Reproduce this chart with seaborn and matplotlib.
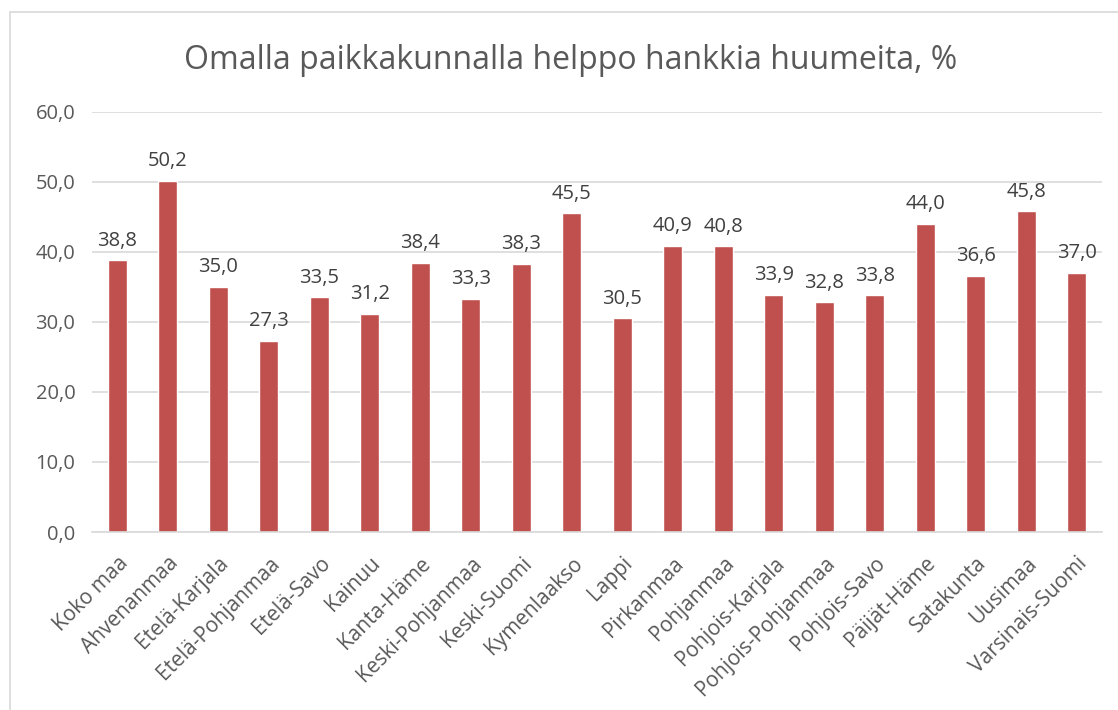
import matplotlib.pyplot as plt
import seaborn as sns
import pandas as pd
from matplotlib.lines import Line2D

# alueet ja prosentit
alueet = ['Koko maa', 'Ahvenanmaa', 'Etelä-Karjala', 'Etelä-Pohjanmaa', 'Etelä-Savo',
          'Kainuu', 'Kanta-Häme', 'Keski-Pohjanmaa', 'Keski-Suomi', 'Kymenlaakso',
          'Lappi', 'Pirkanmaa', 'Pohjanmaa', 'Pohjois-Karjala', 'Pohjois-Pohjanmaa',
          'Pohjois-Savo', 'Päijät-Häme', 'Satakunta', 'Uusimaa', 'Varsinais-Suomi']
arvot = [38.8, 50.2, 35.0, 27.3, 33.5, 31.2, 38.4, 33.3, 38.3, 45.5,
         30.5, 40.9, 40.8, 33.9, 32.8, 33.8, 44.0, 36.6, 45.8, 37.0]
y_ticks = [0, 10, 20, 30, 40, 50, 60]

df = pd.DataFrame({'alue': alueet, 'arvo': arvot})

sns.set_style('white')
plt.rcParams['font.family'] = ['Open Sans', 'DejaVu Sans']

fig = plt.figure(figsize=(11.18, 7.1), dpi=100)
ax = fig.add_axes([0.0823, 0.2507, 0.9034, 0.5916])

sns.barplot(data=df, x='alue', y='arvo', color='#C0504D', saturation=1,
            width=0.37, ax=ax)

ax.set_ylim(0, 60)
ax.set_xlim(-0.5, len(alueet) - 0.5)
ax.set_yticks(y_ticks)
ax.set_yticklabels([f'{v:.1f}'.replace('.', ',') for v in y_ticks],
                   fontsize=14.5, color='#595959')
ax.yaxis.grid(True, color='#D9D9D9', linewidth=1.2)
ax.set_axisbelow(True)
for s in ['left', 'right', 'top']:
    ax.spines[s].set_visible(False)
ax.spines['bottom'].set_color('#D9D9D9')
ax.spines['bottom'].set_linewidth(1.2)
ax.tick_params(axis='y', length=0, pad=12)

ax.set_xticks(range(len(alueet)))
ax.set_xticklabels(alueet, rotation=45, ha='right', rotation_mode='anchor',
                   fontsize=15, color='#595959')
ax.tick_params(axis='x', length=0, pad=15)
ax.set_xlabel('')
ax.set_ylabel('')

for i, v in enumerate(arvot):
    ax.annotate(f'{v:.1f}'.replace('.', ','), (i, v), xytext=(0, 7),
                textcoords='offset points', ha='center', va='bottom',
                fontsize=14.5, color='#404040')

fig.text(0.51, 0.915, 'Omalla paikkakunnalla helppo hankkia huumeita, %',
         ha='center', va='center', fontsize=23, color='#595959')

# kaavion reunus (vasen ja yläreuna)
fig.add_artist(Line2D([0.0085, 0.0085], [0, 0.983], color='#D9D9D9', lw=1.2,
                      transform=fig.transFigure))
fig.add_artist(Line2D([0.0085, 1], [0.983, 0.983], color='#D9D9D9', lw=1.2,
                      transform=fig.transFigure))

fig.savefig('out.png', dpi=100, facecolor='white')
